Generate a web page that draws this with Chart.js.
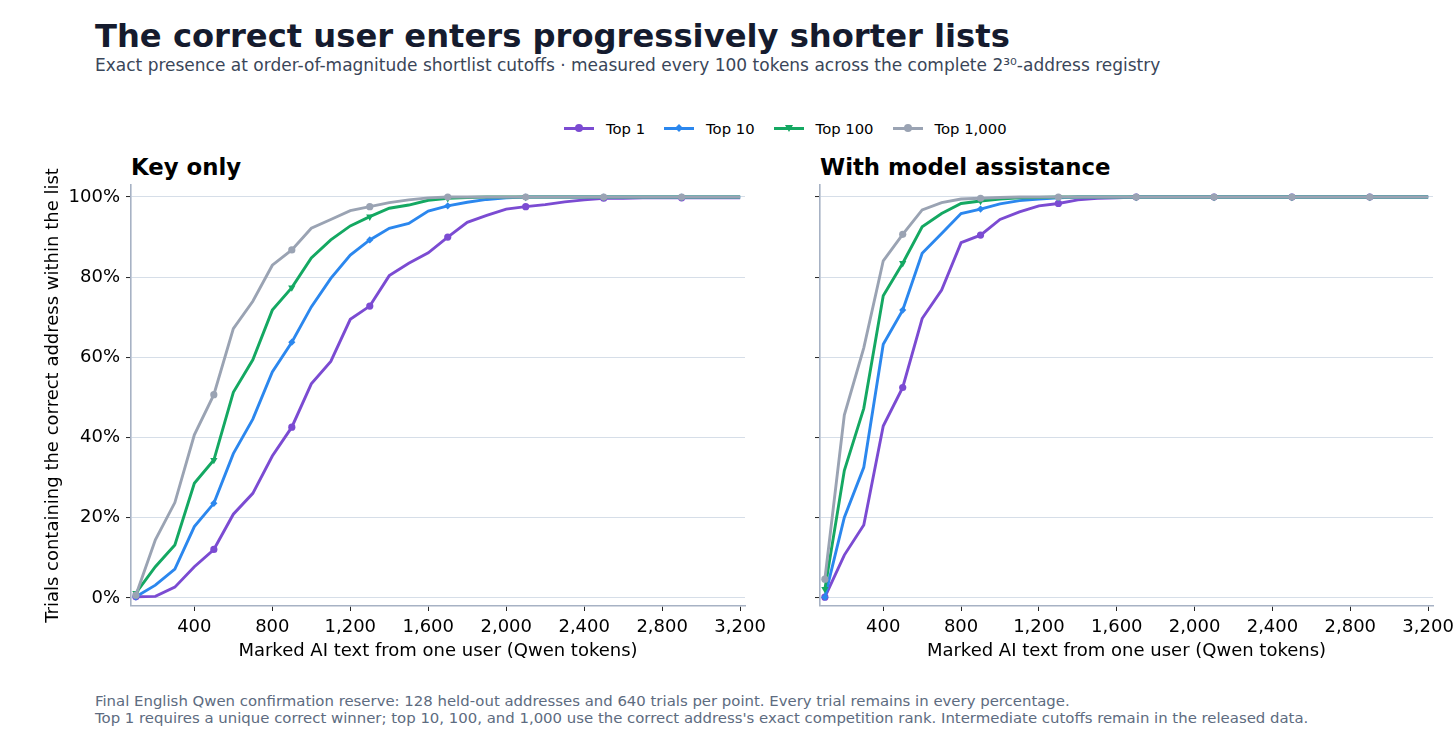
<!DOCTYPE html>
<html>
<head>
<meta charset="utf-8">
<title>The correct user enters progressively shorter lists</title>
<script src="https://cdn.jsdelivr.net/npm/chart.js"></script>
<style>
  html, body { margin: 0; padding: 0; background: #fff; }
  body { width: 1456px; height: 740px; position: relative; overflow: hidden; font-family: "DejaVu Sans", sans-serif; }
  .abs { position: absolute; white-space: nowrap; }
  #title { left: 95px; top: 17px; font-size: 32.2px; font-weight: bold; color: #151b2e; }
  #subtitle { left: 95px; top: 55px; font-size: 17px; color: #3a4659; }
  .panel-title { top: 154px; font-size: 22.8px; font-weight: bold; color: #000; }
  #legend { left: 564px; top: 118px; display: flex; align-items: center; font-size: 14.8px; color: #000; }
  .item { display: flex; align-items: center; margin-right: 19px; }
  .sym { position: relative; width: 30px; height: 20px; margin-right: 12px; }
  .sym .ln { position: absolute; left: 0; right: 0; top: 8.5px; height: 3px; }
  .sym .mk { position: absolute; left: 11px; top: 6px; width: 8px; height: 8px; }
  #footer { left: 95px; top: 693px; font-size: 14.9px; line-height: 16.5px; color: #5d6b80; }
  canvas { position: absolute; }
</style>
</head>
<body>
<div id="title" class="abs">The correct user enters progressively shorter lists</div>
<div id="subtitle" class="abs">Exact presence at order-of-magnitude shortlist cutoffs · measured every 100 tokens across the complete 2³⁰-address registry</div>
<div id="legend" class="abs"></div>
<div class="abs panel-title" style="left:131px">Key only</div>
<div class="abs panel-title" style="left:820px">With model assistance</div>
<div style="position:absolute;left:30px;top:150px;width:750px;height:516px"><canvas id="left"></canvas></div>
<div style="position:absolute;left:780px;top:150px;width:700px;height:516px"><canvas id="right"></canvas></div>
<div id="footer" class="abs">Final English Qwen confirmation reserve: 128 held-out addresses and 640 trials per point. Every trial remains in every percentage.<br>Top 1 requires a unique correct winner; top 10, 100, and 1,000 use the correct address's exact competition rank. Intermediate cutoffs remain in the released data.</div>

<script>
// Token counts (x) and tick labels
const TOKENS = [100, 200, 300, 400, 500, 600, 700, 800, 900, 1000, 1100, 1200, 1300, 1400, 1500, 1600,
  1700, 1800, 1900, 2000, 2100, 2200, 2300, 2400, 2500, 2600, 2700, 2800, 2900, 3000, 3100, 3200];
const X_TICKS = [400, 800, 1200, 1600, 2000, 2400, 2800, 3200];
const Y_TICKS = [0, 20, 40, 60, 80, 100];
const SERIES = ['Top 1', 'Top 10', 'Top 100', 'Top 1,000'];

// Key only (% of trials)
const KEY_TOP1 = [0.3, 0.4, 2.7, 7.8, 12.1, 20.9, 26.1, 35.4, 42.6, 53.4, 59.0, 69.5, 72.8, 80.4, 83.5, 86.1,
  90.0, 93.7, 95.4, 97.0, 97.6, 98.1, 98.8, 99.3, 99.7, 99.7, 99.8, 99.8, 99.8, 99.8, 99.8, 99.8];
const KEY_TOP10 = [0.3, 3.2, 7.2, 17.8, 23.6, 36.0, 44.6, 56.4, 63.8, 72.6, 79.7, 85.5, 89.3, 92.2, 93.4, 96.5,
  97.8, 98.7, 99.4, 99.8, 100, 100, 100, 100, 100, 100, 100, 100, 100, 100, 100, 100];
const KEY_TOP100 = [1.2, 7.8, 13.2, 28.6, 34.4, 51.3, 59.4, 71.8, 77.4, 84.8, 89.3, 92.8, 95.1, 97.2, 98.0, 99.2,
  99.7, 99.9, 100, 100, 100, 100, 100, 100, 100, 100, 100, 100, 100, 100, 100, 100];
const KEY_TOP1000 = [0.7, 14.5, 23.8, 40.7, 50.7, 67.2, 74.0, 83.0, 86.8, 92.2, 94.4, 96.6, 97.6, 98.6, 99.3, 99.8,
  100, 100, 100, 100, 100, 100, 100, 100, 100, 100, 100, 100, 100, 100, 100, 100];

// With model assistance (% of trials)
const ASSIST_TOP1 = [0.2, 10.7, 18.2, 42.9, 52.5, 69.7, 76.8, 88.6, 90.5, 94.4, 96.3, 97.8, 98.4, 99.3, 99.7, 99.8,
  100, 100, 100, 100, 100, 100, 100, 100, 100, 100, 100, 100, 100, 100, 100, 100];
const ASSIST_TOP10 = [0.2, 20.1, 32.6, 63.3, 71.8, 86.0, 90.9, 95.9, 97.0, 98.3, 99.1, 99.5, 99.8, 100, 100, 100,
  100, 100, 100, 100, 100, 100, 100, 100, 100, 100, 100, 100, 100, 100, 100, 100];
const ASSIST_TOP100 = [2.2, 31.8, 47.3, 75.4, 83.5, 92.6, 95.9, 98.4, 99.0, 99.5, 99.8, 99.9, 100, 100, 100, 100,
  100, 100, 100, 100, 100, 100, 100, 100, 100, 100, 100, 100, 100, 100, 100, 100];
const ASSIST_TOP1000 = [4.7, 45.6, 62.4, 84.1, 90.7, 96.8, 98.6, 99.5, 99.7, 99.9, 100, 100, 100, 100, 100, 100,
  100, 100, 100, 100, 100, 100, 100, 100, 100, 100, 100, 100, 100, 100, 100, 100];

// Styles per series
const COLORS = ['#7b4bd2', '#2b87ee', '#14a862', '#9aa3b3'];
const MARKERS = ['circle', 'rectRot', 'triangle', 'circle'];
const ROTATIONS = [0, 0, 180, 0];
const FONT = '"DejaVu Sans", sans-serif';

// Legend (HTML)
function markerCss(i) {
  const c = COLORS[i];
  if (i === 1) return `background:${c};transform:rotate(45deg) scale(0.7);`;
  if (i === 2) return `width:0;height:0;left:11px;top:7px;border-left:4px solid transparent;border-right:4px solid transparent;border-top:7px solid ${c};`;
  return `background:${c};border-radius:50%;`;
}
document.getElementById('legend').innerHTML = SERIES.map((s, i) =>
  `<div class="item"><div class="sym"><div class="ln" style="background:${COLORS[i]}"></div>` +
  `<div class="mk" style="${markerCss(i)}"></div></div><span>${s}</span></div>`
).join('');

function makeDatasets(lists) {
  return lists.map((vals, i) => ({
    label: SERIES[i],
    data: TOKENS.map((t, j) => ({ x: t, y: vals[j] })),
    borderColor: COLORS[i],
    backgroundColor: COLORS[i],
    borderWidth: 2.9,
    pointStyle: MARKERS[i],
    pointRotation: ROTATIONS[i],
    pointRadius: ctx => (ctx.dataIndex % 4 === 0 ? (i === 2 ? 4.2 : 3.6) : 0),
    pointBorderWidth: 0,
    pointHoverRadius: 0,
    tension: 0,
    order: 3 - i
  }));
}

function makeChart(id, lists, showYLabels, yWidth, padRight) {
  return new Chart(document.getElementById(id), {
    type: 'line',
    data: { datasets: makeDatasets(lists) },
    options: {
      animation: false,
      responsive: true,
      maintainAspectRatio: false,
      layout: { padding: { top: 35, right: padRight, left: 0, bottom: 0 } },
      plugins: { legend: { display: false }, tooltip: { enabled: false } },
      scales: {
        x: {
          type: 'linear',
          min: 75,
          max: 3225,
          afterBuildTicks: s => { s.ticks = X_TICKS.map(v => ({ value: v })); },
          afterFit: s => { s.height = 60; },
          ticks: {
            color: '#000',
            font: { family: FONT, size: 18 },
            padding: 6,
            maxRotation: 0,
            callback: v => v.toLocaleString('en-US')
          },
          grid: { drawOnChartArea: false, drawTicks: true, tickLength: 5, tickColor: '#222', tickWidth: 1 },
          border: { display: true, color: '#a7b2c4', width: 1.6 },
          title: {
            display: true,
            text: 'Marked AI text from one user (Qwen tokens)',
            color: '#000',
            font: { family: FONT, size: 18 },
            padding: { top: 0, bottom: 4 }
          }
        },
        y: {
          min: -2,
          max: 103,
          afterBuildTicks: s => { s.ticks = Y_TICKS.map(v => ({ value: v })); },
          afterFit: s => { s.width = yWidth; },
          ticks: {
            color: '#000',
            font: { family: FONT, size: 18 },
            padding: 6,
            callback: v => (showYLabels ? v + '%' : '')
          },
          grid: { color: '#d6dee8', lineWidth: 1.1, drawTicks: true, tickLength: 5, tickColor: '#222', tickWidth: 1 },
          border: { display: true, color: '#a7b2c4', width: 1.6 },
          title: {
            display: showYLabels,
            text: 'Trials containing the correct address within the list',
            color: '#000',
            font: { family: FONT, size: 18 },
            padding: { top: 13, bottom: 0 }
          }
        }
      }
    }
  });
}

makeChart('left', [KEY_TOP1, KEY_TOP10, KEY_TOP100, KEY_TOP1000], true, 101, 35);
makeChart('right', [ASSIST_TOP1, ASSIST_TOP10, ASSIST_TOP100, ASSIST_TOP1000], false, 40, 47);
</script>
</body>
</html>
